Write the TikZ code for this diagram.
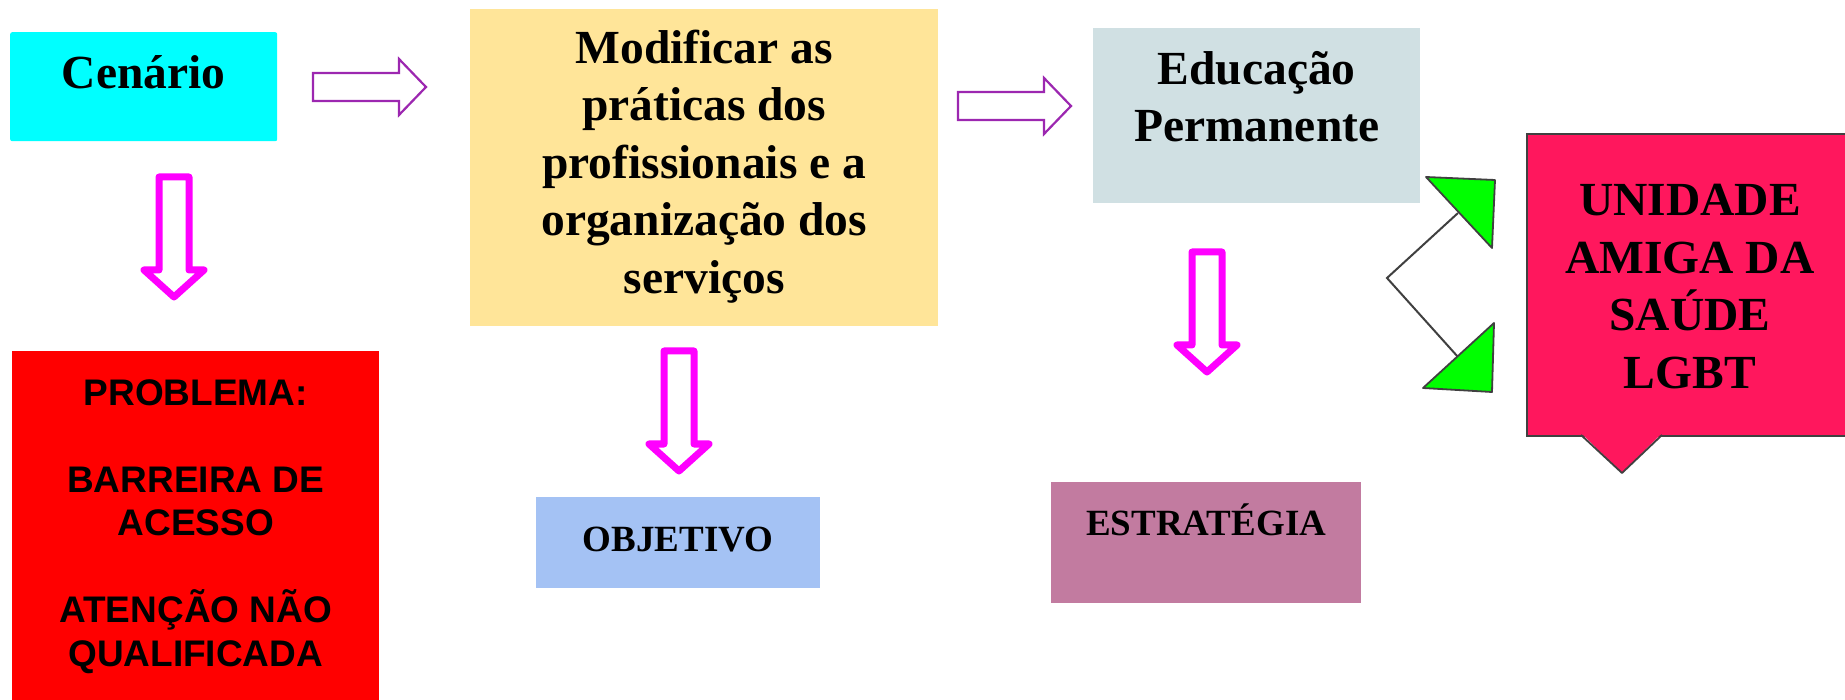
\documentclass[tikz,border=0pt]{standalone}
\usepackage{fontspec}
\setmainfont{Liberation Serif}
\newfontfamily\arialfont{Liberation Sans}

\definecolor{cenariocyan}{HTML}{00FFFF}
\definecolor{praticasyellow}{HTML}{FFE599}
\definecolor{educacaogray}{HTML}{D0E0E3}
\definecolor{problemred}{HTML}{FF0000}
\definecolor{objetivoblue}{HTML}{A4C2F4}
\definecolor{estrategiamauve}{HTML}{C27BA0}
\definecolor{lgbtpink}{HTML}{FF175D}
\definecolor{arrowpurple}{HTML}{9C27B0}
\definecolor{arrowmagenta}{HTML}{FF00FF}
\definecolor{headgreen}{HTML}{00FF00}
\definecolor{linegray}{HTML}{404040}

\tikzset{
  box/.style={inner sep=0pt, align=flush center, anchor=north west,
    font=\bfseries\fontsize{47.5}{57.5}\selectfont},
  smallbox/.style={box, font=\bfseries\fontsize{37}{43.5}\selectfont},
  flowarrow/.style={draw=arrowpurple, line width=2.2pt, fill=white},
  downarrow/.style={draw=arrowmagenta, line width=7pt, line join=round, fill=white},
  greenhead/.style={fill=headgreen, draw=linegray, line width=1.8pt, line join=round},
  elbow/.style={draw=linegray, line width=2pt},
  rightblock/.pic={\draw[flowarrow] (0,-14) -- (86,-14) -- (86,-28) -- (113,0) -- (86,28) -- (86,14) -- (0,14) -- cycle;},
  downblock/.pic={\draw[downarrow] (-15,0) -- (15,0) -- (15,93) -- (30,93) -- (0,120) -- (-30,93) -- (-15,93) -- cycle;}
}

\begin{document}
\begin{tikzpicture}[x=1pt, y=-1pt]

  \useasboundingbox (0,0) rectangle (1845,700);

  % boxes
  \node[box, fill=cenariocyan, rounded corners=2pt, text width=267pt, text height=56pt, text depth=53pt] (cenario) at (10,32) {Cenário};
  \node[box, fill=praticasyellow, text width=468pt, text height=54pt, text depth=263pt] (praticas) at (470,9)
    {Modificar as\\práticas dos\\profissionais e a\\organização dos\\serviços};
  \node[box, fill=educacaogray, text width=327pt, text height=56pt, text depth=119pt] (educacao) at (1093,28)
    {Educação\\Permanente};
  \node[box, fill=problemred, font=\arialfont\bfseries\fontsize{37}{43.5}\selectfont, text width=367pt, text height=54pt, text depth=300pt] (problema) at (12,351)
    {PROBLEMA:\\[43.5pt]BARREIRA DE\\ACESSO\\[43.5pt]ATENÇÃO NÃO\\QUALIFICADA};
  \node[smallbox, fill=objetivoblue, text width=284pt, text height=54pt, text depth=37pt] (objetivo) at (536,497) {OBJETIVO};
  \node[smallbox, fill=estrategiamauve, text width=310pt, text height=53pt, text depth=68pt] (estrategia) at (1051,482) {ESTRATÉGIA};

  % callout
  \node[box, fill=lgbtpink, draw=linegray, line width=1.8pt, text width=326pt, text height=82pt, text depth=220pt] (lgbt) at (1526,133)
    {UNIDADE\\AMIGA DA\\SAÚDE\\LGBT};
  \coordinate (ptrL) at (1581,435);
  \coordinate (ptrR) at (1662,435);
  \coordinate (ptrTip) at (1622,473);
  \fill[lgbtpink] (1581,433) -- (1662,433) -- (ptrTip) -- cycle;
  \draw[linegray, line width=1.8pt, line join=round] (ptrL) -- (ptrTip) -- (ptrR);

  % block arrows
  \pic at (313,87) {rightblock};
  \pic at (958,106) {rightblock};
  \pic at (174,177) {downblock};
  \pic at (679,351) {downblock};
  \pic at (1207,252) {downblock};

  % elbow with green heads
  \coordinate (bend) at (1387,278);
  \coordinate (upEnd) at (1458,213);
  \coordinate (lowEnd) at (1458,357);
  \draw[elbow] (upEnd) -- (bend) -- (lowEnd);
  \filldraw[greenhead] (1426,177) -- (1495,180) -- (1492,248) -- cycle;
  \filldraw[greenhead] (1494,323) -- (1492,392) -- (1423,388) -- cycle;

\end{tikzpicture}
\end{document}
